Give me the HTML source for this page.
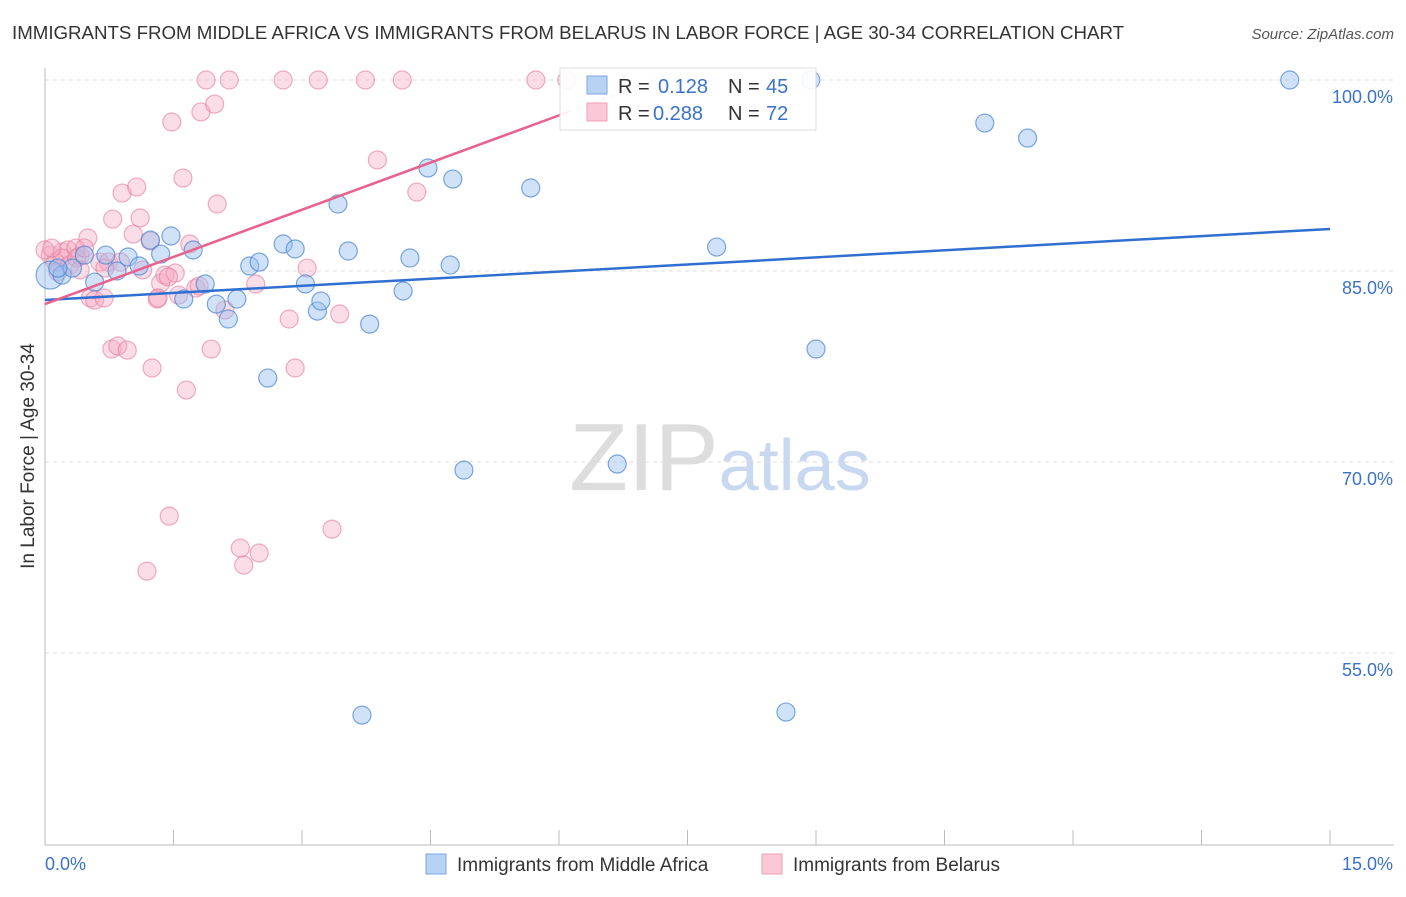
<!DOCTYPE html>
<html><head><meta charset="utf-8"><style>
body{margin:0;background:#fff;font-family:"Liberation Sans",sans-serif}
svg text{font-family:"Liberation Sans",sans-serif}
</style></head><body>
<svg id="chart" width="1406" height="892" xmlns="http://www.w3.org/2000/svg">
<text x="12" y="39" font-size="18.7" fill="#333">IMMIGRANTS FROM MIDDLE AFRICA VS IMMIGRANTS FROM BELARUS IN LABOR FORCE | AGE 30-34 CORRELATION CHART</text>
<text x="1394" y="39" font-size="15" fill="#555" text-anchor="end" font-style="italic">Source: ZipAtlas.com</text>
<text x="720" y="490" font-size="96" text-anchor="middle" fill="#ddd" font-family="Liberation Serif">ZIP<tspan fill="#c8d8f0" font-family="Liberation Sans" font-size="72">atlas</tspan></text>
<g id="grid"></g>
<g id="axes"></g>
<g id="pts"></g>
<g id="lines"></g>
<text transform="translate(34,456) rotate(-90)" font-size="19" fill="#333" text-anchor="middle">In Labor Force | Age 30-34</text>
<g>
<rect x="560" y="68" width="256" height="62" fill="#fff" fill-opacity="0.9" stroke="#ddd"/>
<rect x="587" y="76" width="20" height="18" fill="#b8d2f4" stroke="#7aa6e0"/>
<text x="618" y="93" font-size="20" fill="#333">R = </text><text x="658" y="93" font-size="20" fill="#3a72c8">0.128</text>
<text x="728" y="93" font-size="20" fill="#333">N = </text><text x="766" y="93" font-size="20" fill="#3a72c8">45</text>
<rect x="587" y="103" width="20" height="18" fill="#fac8d6" stroke="#eca0b6"/>
<text x="618" y="120" font-size="20" fill="#333">R = </text><text x="653" y="120" font-size="20" fill="#3a72c8">0.288</text>
<text x="728" y="120" font-size="20" fill="#333">N = </text><text x="766" y="120" font-size="20" fill="#3a72c8">72</text>
</g>
<g>
<rect x="426" y="854" width="20" height="20" fill="#b8d2f4" stroke="#7aa6e0"/>
<text x="457" y="871" font-size="19" fill="#333">Immigrants from Middle Africa</text>
<rect x="762" y="854" width="20" height="20" fill="#fac8d6" stroke="#eca0b6"/>
<text x="793" y="871" font-size="19" fill="#333">Immigrants from Belarus</text>
</g>
</svg>
<script>
const blueX=[0.06,0.20,0.32,0.15,0.46,0.58,0.71,0.84,0.97,1.10,1.23,1.35,1.47,1.62,1.73,1.87,2.00,2.14,2.24,2.39,2.50,2.60,2.78,2.92,3.04,3.18,3.22,3.42,3.54,3.70,3.79,4.18,4.26,4.47,4.73,4.76,4.89,5.67,6.68,7.84,8.65,8.94,9.00,10.97,11.47,14.53];
const blueY=[84.68,84.68,85.23,85.23,86.25,84.13,86.25,85.00,86.10,85.39,87.43,86.33,87.75,82.80,86.65,83.98,82.40,81.23,82.80,85.39,85.70,76.59,87.12,86.73,83.98,81.85,82.64,90.26,86.57,50.12,80.83,83.43,86.02,93.09,85.47,92.22,69.36,91.52,69.84,86.88,50.36,100,78.87,96.62,95.44,100];
const pinkX=[0.06,0.12,0.20,0.27,0.36,0.41,0.50,0.53,0.58,0.64,0.69,0.74,0.78,0.79,0.85,0.90,0.96,1.03,1.07,1.11,1.14,1.23,1.25,1.31,1.35,1.40,1.45,1.48,1.52,1.56,1.61,1.65,1.69,1.76,1.82,1.88,1.94,1.98,2.01,2.10,2.15,2.28,2.32,2.46,2.50,2.78,2.85,2.92,3.06,3.19,3.35,3.44,3.74,3.88,4.17,4.34,5.73,6.09,0.20,0.29,0.37,0.46,1.19,1.44,1.80,0.88,0.70,0.41,0.00,0.08,0.15,1.32];
const pinkY=[86.25,85.70,86.49,86.65,86.80,86.18,87.59,82.88,82.72,85.70,82.88,85.70,78.87,89.08,79.11,91.12,78.79,87.90,91.60,89.16,85.08,87.35,77.38,82.80,84.05,84.68,65.75,96.70,84.84,83.11,92.30,75.65,87.12,83.66,97.49,100,78.87,98.11,90.26,81.93,100,63.24,61.90,83.98,62.85,100,81.23,77.38,85.23,100,64.73,81.62,100,93.72,100,91.20,100,100,86.02,85.47,86.02,86.80,61.43,84.53,83.82,85.70,85.23,85.08,86.65,86.80,84.92,82.88];
const yTicks=[100,85,70,55];
const yTickLabels=["100.0%","85.0%","70.0%","55.0%"];
const blueTrend=[82.72,88.3];
const pinkTrend=[82.4,2.47];
const X=v=>45+v/15*1285;
const Y=v=>80+(100-v)*12.733;
const NS="http://www.w3.org/2000/svg";
function mk(t,a,p){const e=document.createElementNS(NS,t);for(const k in a)e.setAttribute(k,a[k]);p.appendChild(e);return e;}
const grid=document.getElementById('grid'),axes=document.getElementById('axes'),pts=document.getElementById('pts'),lines=document.getElementById('lines');
yTicks.forEach((t,i)=>{
 const l=mk('line',{x1:45,x2:1394,y1:Y(t),y2:Y(t),stroke:'#ddd','stroke-dasharray':'4,4'},grid);
 
 
 const tx=mk('text',{x:1393,y:Y(t)+23,'font-size':18,fill:'#3a72c8','text-anchor':'end'},axes);
 tx.textContent=yTickLabels[i];
 
 
});
let a=mk('line',{x1:45,x2:45,y1:68,y2:845,stroke:'#bbb'},axes);


a=mk('line',{x1:45,x2:1394,y1:845,y2:845,stroke:'#bbb'},axes);


for(let i=0;i<=10;i++){const t=mk('line',{x1:X(i*1.5),x2:X(i*1.5),y1:830,y2:845,stroke:'#bbb'},axes);
 
 }
let xl=mk('text',{x:45,y:870,'font-size':18,fill:'#3a72c8'},axes);xl.textContent='0.0%';


xl=mk('text',{x:1393,y:870,'font-size':18,fill:'#3a72c8','text-anchor':'end'},axes);xl.textContent='15.0%';


pinkX.forEach((x,i)=>{const c=mk('circle',{cx:X(x),cy:Y(pinkY[i]),r:9,fill:'rgba(245,170,195,0.4)',stroke:'rgba(230,120,155,0.6)','stroke-width':1.2},pts);
 
 });
blueX.forEach((x,i)=>{const c=mk('circle',{cx:X(x),cy:Y(blueY[i]),r:i==0?14:9,fill:'rgba(150,190,240,0.45)',stroke:'rgba(70,130,210,0.7)','stroke-width':1.2},pts);
 
 });
let bl=mk('line',{x1:X(0),y1:Y(blueTrend[0]),x2:X(15),y2:Y(blueTrend[1]),stroke:'#2f6fd0','stroke-width':2.5},lines);


const pe=6.1,pd=7.2;
let pl=mk('line',{x1:X(0),y1:Y(pinkTrend[0]),x2:X(pe),y2:Y(pinkTrend[0]+pinkTrend[1]*pe),stroke:'#e8628e','stroke-width':2.5},lines);


pl=mk('line',{x1:X(pe),y1:Y(pinkTrend[0]+pinkTrend[1]*pe),x2:X(pd),y2:Y(pinkTrend[0]+pinkTrend[1]*pd),stroke:'#e8628e','stroke-width':1.2,'stroke-dasharray':'5,4'},lines);


</script>
</body></html>
